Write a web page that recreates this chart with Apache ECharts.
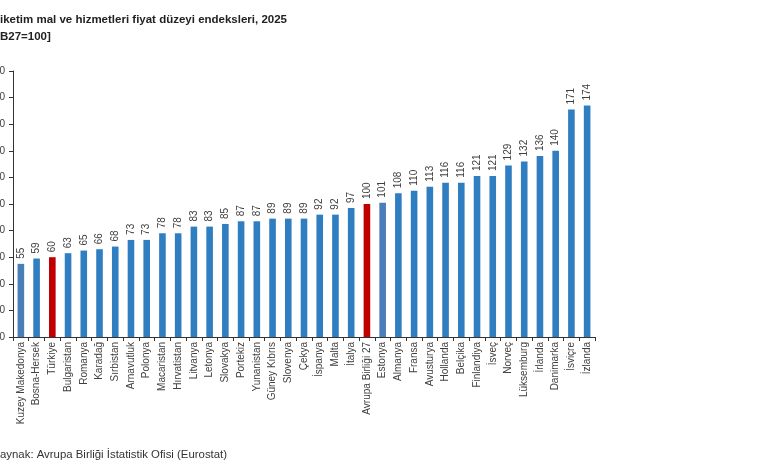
<!DOCTYPE html>
<html><head><meta charset="utf-8">
<script src="https://cdn.jsdelivr.net/npm/echarts@6/dist/echarts.min.js"></script>
<style>html,body{margin:0;padding:0;background:#fff}#c{width:780px;height:470px}</style>
</head><body><div id="c"></div>
<script>
const categories = ["Kuzey Makedonya","Bosna-Hersek","Türkiye","Bulgaristan","Romanya","Karadağ","Sırbistan","Arnavutluk","Polonya","Macaristan","Hırvatistan","Litvanya","Letonya","Slovakya","Portekiz","Yunanistan","Güney Kıbrıs","Slovenya","Çekya","İspanya","Malta","İtalya","Avrupa Birliği 27","Estonya","Almanya","Fransa","Avusturya","Hollanda","Belçika","Finlandiya","İsveç","Norveç","Lüksemburg","İrlanda","Danimarka","İsviçre","İzlanda"];
const values = [55,59,60,63,65,66,68,73,73,78,78,83,83,85,87,87,89,89,89,92,92,97,100,101,108,110,113,116,116,121,121,129,132,136,140,171,174];
const redBars = ["Türkiye","Avrupa Birliği 27"];
const lightBars = ["Kuzey Makedonya","Estonya"];
const yTicks = [0,20,40,60,80,100,120,140,160,180,200];

const colorFor = c => redBars.includes(c) ? '#c00000' : (lightBars.includes(c) ? '#4a7ebb' : '#2e7ec1');
const font = 'Arial, "Liberation Sans", sans-serif';

const chart = echarts.init(document.getElementById('c'));
chart.setOption({
  animation: false,
  graphic: [
    {type:'text', left:0, top:14, style:{text:'iketim mal ve hizmetleri fiyat düzeyi endeksleri, 2025', font:'bold 11.5px '+font, fill:'#222'}},
    {type:'text', left:0, top:31, style:{text:'B27=100]', font:'bold 11.5px '+font, fill:'#222'}},
    {type:'text', left:0, top:449, style:{text:'aynak: Avrupa Birliği İstatistik Ofisi (Eurostat)', font:'11.4px '+font, fill:'#333'}}
  ],
  grid: {left:13, right:185, top:71, bottom:133, containLabel:false, outerBoundsMode:'none'},
  xAxis: {
    type:'category', data: categories,
    axisLine:{lineStyle:{color:'#333', width:1}},
    axisTick:{show:true, length:4, lineStyle:{color:'#333'}},
    axisLabel:{rotate:90, interval:0, fontSize:10, fontFamily:font, color:'#404040', margin:5}
  },
  yAxis: {
    type:'value', min: yTicks[0], max: yTicks[yTicks.length-1], interval: 20,
    axisLine:{show:true, lineStyle:{color:'#333', width:1}},
    axisTick:{show:true, length:4, lineStyle:{color:'#333'}},
    splitLine:{show:false},
    axisLabel:{fontSize:10, fontFamily:font, color:'#404040', margin:8}
  },
  series: [{
    type:'bar', barWidth:'42%',
    data: categories.map((c,i)=>({value:values[i], itemStyle:{color:colorFor(c)}})),
    label:{show:true, position:'top', rotate:90, align:'left', verticalAlign:'middle', distance:5, fontSize:10, fontFamily:font, color:'#404040'}
  }]
});
</script></body></html>
